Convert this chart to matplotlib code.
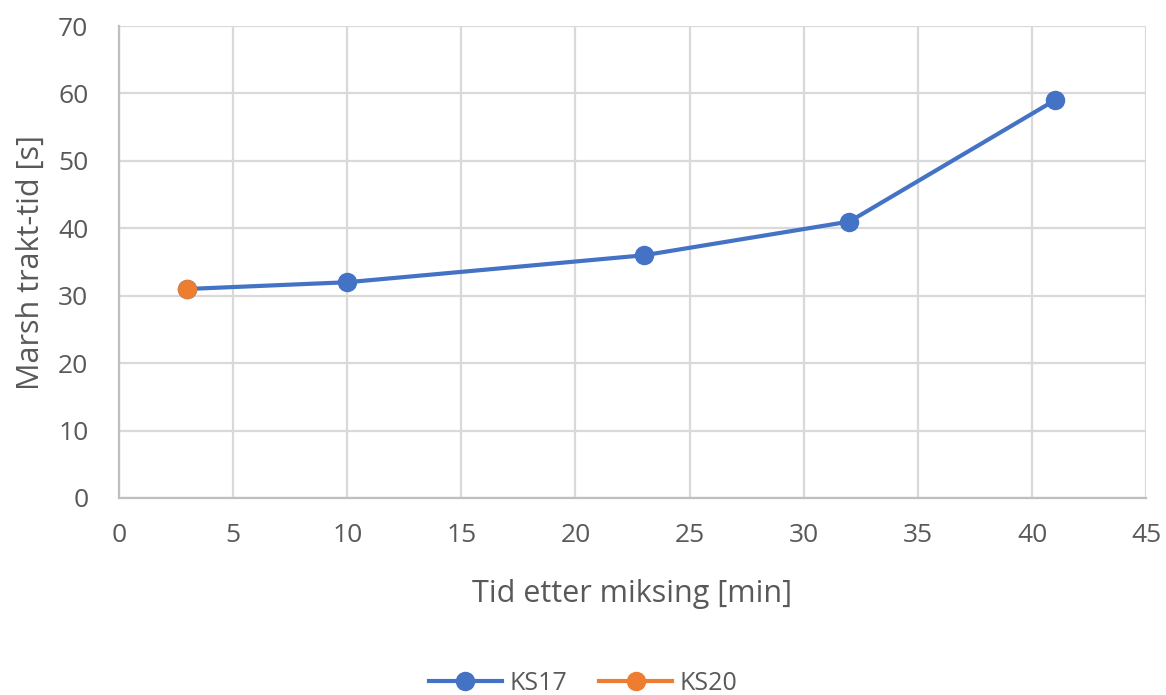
import matplotlib
matplotlib.use("Agg")
import matplotlib.pyplot as plt
from matplotlib.lines import Line2D

# Marsh funnel time measured at increasing times after mixing
ks17_time = [3, 10, 23, 32, 41]
ks17_marsh = [31, 32, 36, 41, 59]
ks20_time = [3]
ks20_marsh = [31]

x_ticks = list(range(0, 50, 5))
y_ticks = list(range(0, 80, 10))

blue = "#4472C4"
orange = "#ED7D31"
text_col = "#595959"
grid_col = "#D9D9D9"

plt.rcParams["font.family"] = ["Open Sans", "DejaVu Sans"]

fig = plt.figure(figsize=(11.66, 6.95), dpi=100)
ax = fig.add_axes([0.102, 0.2835, 0.881, 0.679])

ax.plot(ks17_time, ks17_marsh, color=blue, lw=3, marker="o", ms=13,
        solid_capstyle="round", zorder=3, label="KS17")
ax.plot(ks20_time, ks20_marsh, color=orange, lw=3, marker="o", ms=13,
        zorder=4, label="KS20")

ax.set_xlim(0, 45)
ax.set_ylim(0, 70)
ax.set_xticks(x_ticks)
ax.set_yticks(y_ticks)
ax.grid(True, color=grid_col, lw=1.6)
ax.set_axisbelow(True)

for side in ["top", "right"]:
    ax.spines[side].set_visible(False)
ax.spines["left"].set_color("#BFBFBF")
ax.spines["bottom"].set_color("#BFBFBF")
ax.spines["left"].set_linewidth(1.6)
ax.spines["bottom"].set_linewidth(1.6)

ax.tick_params(axis="both", length=0, labelsize=19, colors=text_col)
ax.tick_params(axis="x", pad=18)
ax.tick_params(axis="y", pad=22)

ax.set_xlabel("Tid etter miksing [min]", fontsize=22, color=text_col, labelpad=22)
ax.set_ylabel("Marsh trakt-tid [s]", fontsize=22, color=text_col, labelpad=9)

handles = [
    Line2D([], [], color=blue, lw=3, marker="o", ms=13),
    Line2D([], [], color=orange, lw=3, marker="o", ms=13),
]
fig.legend(handles, ["KS17", "KS20"], loc="center", bbox_to_anchor=(0.5, 0.017),
           ncol=2, frameon=False, fontsize=18, labelcolor=text_col,
           handlelength=2.9, columnspacing=1.3, handletextpad=0.3)

fig.savefig("out.png", dpi=100)
